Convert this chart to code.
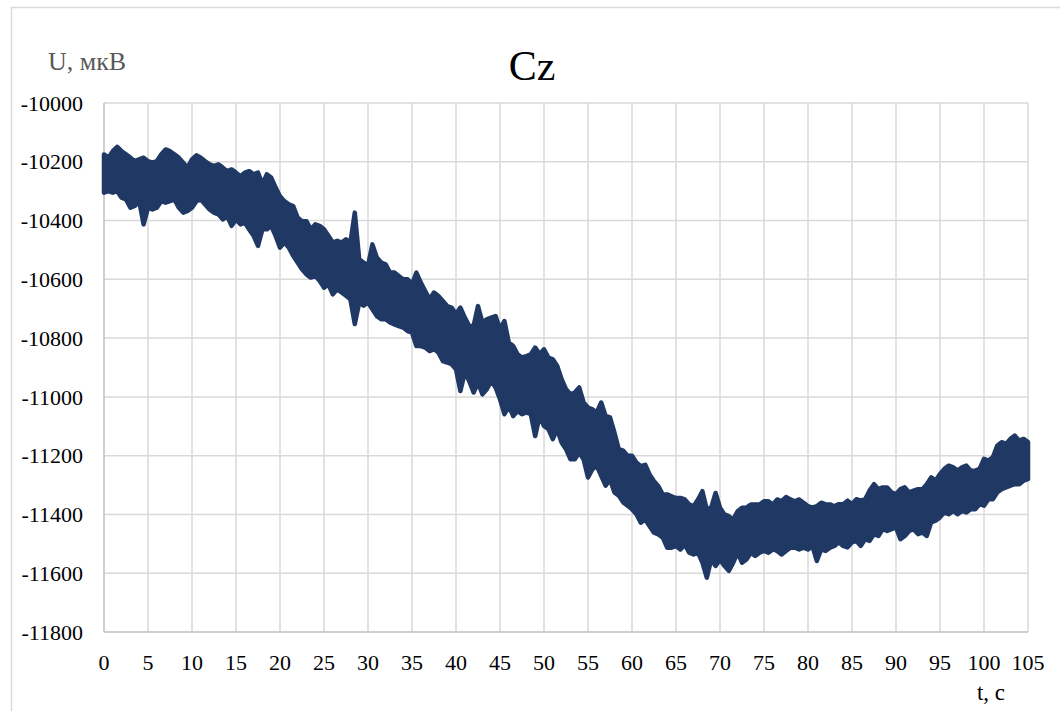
<!DOCTYPE html>
<html>
<head>
<meta charset="utf-8">
<script src="https://cdn.jsdelivr.net/npm/d3@7"></script>
<style>
  body { margin: 0; background: #fff; }
</style>
</head>
<body>
<div class="canvas"></div>
<script>
//? DATA (one sample every half second, top and bottom of the noise band)
const step = 0.5
const upper = [
  -10175, -10186, -10164, -10149, -10164, -10175, -10186, -10198, -10192, -10186,
  -10198, -10203, -10198, -10175, -10158, -10164, -10175, -10186, -10203, -10220,
  -10192, -10178, -10186, -10198, -10209, -10215, -10209, -10220, -10232, -10226,
  -10237, -10249, -10237, -10232, -10243, -10237, -10277, -10243, -10254, -10288,
  -10317, -10334, -10345, -10351, -10390, -10402, -10402, -10430, -10413, -10418,
  -10430, -10452, -10475, -10469, -10475, -10464, -10475, -10373, -10532, -10543,
  -10554, -10481, -10526, -10543, -10549, -10577, -10577, -10589, -10600, -10600,
  -10617, -10577, -10611, -10640, -10668, -10645, -10657, -10674, -10691, -10696,
  -10719, -10696, -10730, -10759, -10759, -10691, -10747, -10736, -10730, -10725,
  -10770, -10742, -10815, -10827, -10855, -10866, -10861, -10855, -10832, -10855,
  -10838, -10866, -10872, -10895, -10940, -10974, -10991, -10985, -10968, -11019,
  -11036, -11042, -11053, -11019, -11065, -11070, -11121, -11178, -11183, -11200,
  -11200, -11223, -11236, -11231, -11264, -11287, -11304, -11332, -11332, -11338,
  -11344, -11344, -11349, -11366, -11372, -11349, -11321, -11383, -11377, -11327,
  -11377, -11400, -11406, -11417, -11389, -11377, -11377, -11366, -11366, -11366,
  -11355, -11355, -11366, -11349, -11355, -11341, -11349, -11355, -11349, -11360,
  -11372, -11377, -11372, -11360, -11366, -11366, -11372, -11365, -11365, -11353,
  -11365, -11348, -11353, -11348, -11319, -11297, -11314, -11308, -11308, -11325,
  -11331, -11314, -11308, -11325, -11319, -11314, -11314, -11297, -11274, -11285,
  -11262, -11245, -11234, -11240, -11251, -11240, -11234, -11251, -11251, -11245,
  -11211, -11217, -11206, -11166, -11154, -11160, -11143, -11132, -11149, -11143,
  -11154
]
const lower = [
  -10305, -10300, -10305, -10300, -10322, -10328, -10356, -10350, -10334, -10413,
  -10356, -10362, -10356, -10334, -10339, -10334, -10328, -10356, -10373, -10367,
  -10356, -10334, -10328, -10345, -10362, -10373, -10379, -10396, -10385, -10418,
  -10396, -10413, -10407, -10430, -10452, -10486, -10430, -10430, -10418, -10452,
  -10492, -10475, -10492, -10520, -10543, -10566, -10583, -10594, -10588, -10605,
  -10628, -10617, -10651, -10634, -10645, -10656, -10668, -10752, -10679, -10690,
  -10679, -10702, -10725, -10736, -10736, -10747, -10753, -10759, -10764, -10776,
  -10781, -10827, -10827, -10832, -10844, -10838, -10849, -10878, -10883, -10889,
  -10906, -10980, -10917, -10946, -10985, -10951, -10991, -10974, -10946, -10968,
  -11008, -11059, -11031, -11065, -11048, -11059, -11053, -11059, -11133, -11065,
  -11099, -11110, -11144, -11110, -11155, -11178, -11212, -11212, -11189, -11212,
  -11274, -11246, -11235, -11269, -11302, -11280, -11325, -11336, -11359, -11370,
  -11382, -11399, -11428, -11417, -11440, -11462, -11468, -11479, -11513, -11513,
  -11507, -11519, -11502, -11530, -11536, -11530, -11564, -11615, -11553, -11575,
  -11553, -11575, -11592, -11564, -11530, -11564, -11553, -11530, -11541, -11530,
  -11524, -11530, -11519, -11524, -11536, -11524, -11513, -11513, -11519, -11513,
  -11519, -11507, -11558, -11519, -11524, -11513, -11507, -11495, -11507, -11512,
  -11495, -11490, -11507, -11484, -11490, -11467, -11473, -11450, -11456, -11450,
  -11444, -11484, -11473, -11456, -11450, -11467, -11461, -11473, -11427, -11421,
  -11410, -11393, -11399, -11387, -11399, -11387, -11393, -11382, -11382, -11365,
  -11370, -11348, -11348, -11325, -11314, -11308, -11302, -11297, -11297, -11285,
  -11280
]

const xTicks = d3.range(0, 106, 5)
const yTicks = d3.range(-11800, -9999, 200)

const title = 'Cz'
const yTitle = 'U, мкВ'
const xTitle = 't, с'

//* ========== LAYOUT =============
const width = 1060
const height = 711
const margin = { top: 103, right: 32, bottom: 79, left: 104 }
const lineColor = '#1f3864'
const font = 'Liberation Serif, Times New Roman, DejaVu Serif, serif'

const svg = d3
  .select('.canvas')
  .append('svg')
  .attr('width', width)
  .attr('height', height)
  .attr('font-family', font)
  .style('display', 'block')

// chart border
svg
  .append('rect')
  .attr('x', 11.5)
  .attr('y', 7.5)
  .attr('width', width)
  .attr('height', height)
  .attr('fill', 'none')
  .attr('stroke', '#d9d9d9')
  .attr('stroke-width', 1.5)

const x = d3
  .scaleLinear()
  .domain([0, 105])
  .range([margin.left, width - margin.right])

const y = d3
  .scaleLinear()
  .domain([-11800, -10000])
  .range([height - margin.bottom, margin.top])

//? GRID
const grid = svg.append('g').attr('stroke', '#d9d9d9').attr('stroke-width', 1.5)

grid
  .selectAll('.gx')
  .data(xTicks.slice(1))
  .join('line')
  .attr('x1', d => x(d))
  .attr('x2', d => x(d))
  .attr('y1', y(-10000))
  .attr('y2', y(-11800))

grid
  .selectAll('.gy')
  .data(yTicks.slice(1))
  .join('line')
  .attr('x1', x(0))
  .attr('x2', x(105))
  .attr('y1', d => y(d))
  .attr('y2', d => y(d))

// axis lines
svg
  .append('line')
  .attr('x1', x(0))
  .attr('x2', x(0))
  .attr('y1', y(-10000))
  .attr('y2', y(-11800))
  .attr('stroke', '#bfbfbf')
  .attr('stroke-width', 1.5)

svg
  .append('line')
  .attr('x1', x(0))
  .attr('x2', x(105))
  .attr('y1', y(-11800))
  .attr('y2', y(-11800))
  .attr('stroke', '#bfbfbf')
  .attr('stroke-width', 1.5)

//? TICK LABELS
svg
  .append('g')
  .selectAll('text')
  .data(yTicks)
  .join('text')
  .attr('x', 83)
  .attr('y', d => y(d))
  .attr('dy', '0.35em')
  .attr('text-anchor', 'end')
  .attr('font-size', 22)
  .attr('fill', '#000')
  .text(d => d)

svg
  .append('g')
  .selectAll('text')
  .data(xTicks)
  .join('text')
  .attr('x', d => x(d))
  .attr('y', 662)
  .attr('dy', '0.35em')
  .attr('text-anchor', 'middle')
  .attr('font-size', 22)
  .attr('fill', '#000')
  .text(d => d)

//? SIGNAL BAND
const band = d3
  .area()
  .x((d, i) => x(i * step))
  .y0((d, i) => y(lower[i]))
  .y1(d => y(d))

svg
  .append('path')
  .datum(upper)
  .attr('d', band)
  .attr('fill', lineColor)
  .attr('stroke', lineColor)
  .attr('stroke-width', 4.5)
  .attr('stroke-linejoin', 'round')

//? TITLES
svg
  .append('text')
  .attr('x', 532)
  .attr('y', 80)
  .attr('text-anchor', 'middle')
  .attr('font-size', 42)
  .attr('fill', '#000')
  .text(title)

svg
  .append('text')
  .attr('x', 48)
  .attr('y', 70)
  .attr('font-size', 26)
  .attr('fill', '#595959')
  .text(yTitle)

svg
  .append('text')
  .attr('x', 1005)
  .attr('y', 700)
  .attr('text-anchor', 'end')
  .attr('font-size', 23)
  .attr('fill', '#000')
  .text(xTitle)
</script>
</body>
</html>
